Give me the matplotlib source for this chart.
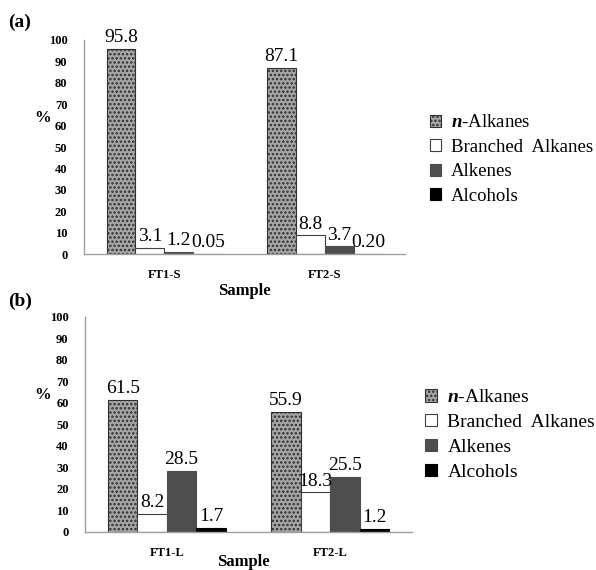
import numpy as np
import matplotlib
matplotlib.use("Agg")
import matplotlib.pyplot as plt

plt.rcParams['font.family'] = ['Liberation Serif', 'DejaVu Serif']
plt.rcParams['mathtext.fontset'] = 'custom'
plt.rcParams['mathtext.it'] = 'Liberation Serif:italic:bold'
plt.rcParams['hatch.linewidth'] = 1.2

# data
series = ['$\\mathit{n}$-Alkanes', 'Branched  Alkanes', 'Alkenes', 'Alcohols']
samples_a = ['FT1-S', 'FT2-S']
samples_b = ['FT1-L', 'FT2-L']
# values per series, one number per sample
a_vals = [[95.8, 87.1], [3.1, 8.8], [1.2, 3.7], [0.05, 0.20]]
a_text = [['95.8', '87.1'], ['3.1', '8.8'], ['1.2', '3.7'], ['0.05', '0.20']]
b_vals = [[61.5, 55.9], [8.2, 18.3], [28.5, 25.5], [1.7, 1.2]]
b_text = [['61.5', '55.9'], ['8.2', '18.3'], ['28.5', '25.5'], ['1.7', '1.2']]

styles = [
    dict(color='#a6a6a6', edgecolor='#303030', hatch='....', linewidth=0.8),
    dict(color='white', edgecolor='#404040', linewidth=0.8),
    dict(color='#4d4d4d', edgecolor='#4d4d4d', linewidth=0.8),
    dict(color='black', edgecolor='black', linewidth=0.8),
]


def draw_panel(ax, samples, vals, texts, xlab_x, xlab_y):
    x = np.arange(len(samples))
    w = 0.18
    handles = []
    for i in range(4):
        b = ax.bar(x + (i - 1.5) * w, vals[i], w, label=series[i], **styles[i])
        ax.bar_label(b, labels=texts[i], padding=2, fontsize=14)
        handles.append(b)
    ax.set_xlim(-0.5, 1.5)
    ax.set_ylim(0, 100)
    ax.set_yticks(range(0, 101, 10))
    ax.set_xticks(x)
    ax.set_xticklabels(samples, fontweight='bold', fontsize=9)
    for lab in ax.get_yticklabels():
        lab.set_fontweight('bold')
        lab.set_fontsize(9)
    ax.tick_params(length=0)
    ax.tick_params(axis='y', pad=12)
    ax.tick_params(axis='x', pad=11)
    for s in ['top', 'right']:
        ax.spines[s].set_visible(False)
    for s in ['left', 'bottom']:
        ax.spines[s].set_color('#a0a0a0')
        ax.spines[s].set_linewidth(1.0)
    ax.set_xlabel('Sample', fontweight='bold', fontsize=12)
    ax.xaxis.set_label_coords(xlab_x, xlab_y)
    ax.set_ylabel('%', fontweight='bold', fontsize=12, rotation=0)
    ax.yaxis.set_label_coords(-0.13, 0.6)
    return handles


fig = plt.figure(figsize=(5.96, 5.70), dpi=100)
ax1 = fig.add_axes([0.141, 0.554, 0.539, 0.376])
ax2 = fig.add_axes([0.143, 0.067, 0.548, 0.377])

h1 = draw_panel(ax1, samples_a, a_vals, a_text, 0.5, -0.135)
h2 = draw_panel(ax2, samples_b, b_vals, b_text, 0.485, -0.105)

fig.text(0.014, 0.96, '(a)', fontsize=14, fontweight='bold', va='center')
fig.text(0.014, 0.472, '(b)', fontsize=14, fontweight='bold', va='center')

leg_kw = dict(loc='upper left', frameon=False, handlelength=0.6,
              handleheight=0.6, handletextpad=0.55, labelspacing=0.4, borderpad=0)
fig.legend(handles=h1, labels=series, bbox_to_anchor=(0.705, 0.816), fontsize=13.5, **leg_kw)
fig.legend(handles=h2, labels=series, bbox_to_anchor=(0.697, 0.334), fontsize=14, **leg_kw)

fig.savefig('out.png', dpi=100)
